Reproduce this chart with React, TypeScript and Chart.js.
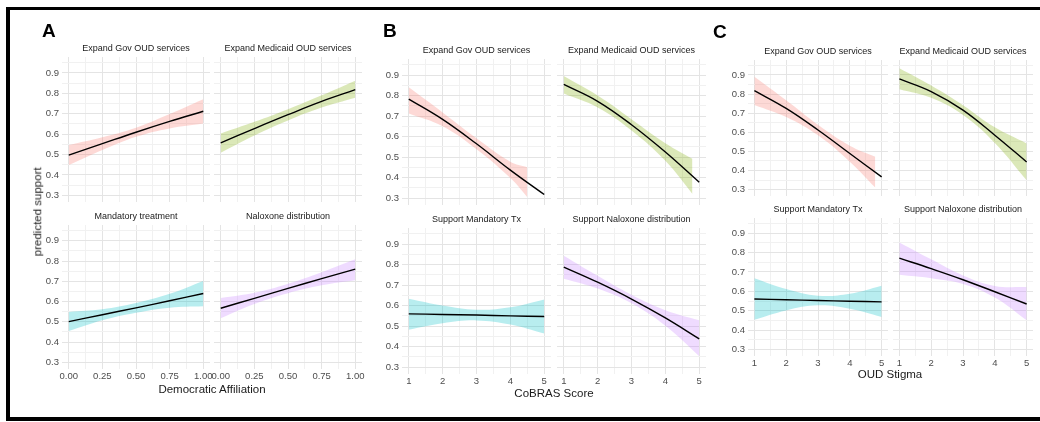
import React, { useEffect, useRef } from 'react';
import { Chart, registerables } from 'chart.js';

Chart.register(...registerables);
Chart.defaults.font.family = '"Liberation Sans", Arial, Helvetica, sans-serif';

// ---------------- data ----------------
const xAffil = [0, 0.25, 0.5, 0.75, 1];
const xScore = [1, 2, 3, 4, 5];

const xTicksAffil = [0, 0.25, 0.5, 0.75, 1];
const xTickLabelsAffil = ['0.00', '0.25', '0.50', '0.75', '1.00'];
const xMinorAffil = [0.125, 0.375, 0.625, 0.875];
const xTicksScore = [1, 2, 3, 4, 5];
const xTickLabelsScore = ['1', '2', '3', '4', '5'];
const xMinorScore = [1.5, 2.5, 3.5, 4.5];
const yTicks = [0.3, 0.4, 0.5, 0.6, 0.7, 0.8, 0.9];
const yTickLabels = ['0.3', '0.4', '0.5', '0.6', '0.7', '0.8', '0.9'];
const yMinor = [0.35, 0.45, 0.55, 0.65, 0.75, 0.85, 0.95];

const titlesA = ['Expand Gov OUD services', 'Expand Medicaid OUD services', 'Mandatory treatment', 'Naloxone distribution'];
const titlesBC = ['Expand Gov OUD services', 'Expand Medicaid OUD services', 'Support Mandatory Tx', 'Support Naloxone distribution'];
const panelLetters = ['A', 'B', 'C'];
const xTitles = ['Democratic Affiliation', 'CoBRAS Score', 'OUD Stigma'];
const yTitle = 'predicted support';

// Panel A (Democratic Affiliation)
const aGovFit = [0.497, 0.553, 0.609, 0.662, 0.712];
const aGovHi = [0.546, 0.584, 0.631, 0.698, 0.771];
const aGovLo = [0.448, 0.522, 0.587, 0.628, 0.652];
const aMedFit = [0.557, 0.627, 0.695, 0.760, 0.818];
const aMedHi = [0.603, 0.660, 0.722, 0.790, 0.862];
const aMedLo = [0.508, 0.593, 0.667, 0.730, 0.778];
const aManFit = [0.501, 0.535, 0.569, 0.604, 0.640];
const aManHi = [0.549, 0.562, 0.593, 0.638, 0.702];
const aManLo = [0.455, 0.508, 0.545, 0.570, 0.577];
const aNalFit = [0.567, 0.616, 0.665, 0.713, 0.760];
const aNalHi = [0.617, 0.643, 0.688, 0.745, 0.809];
const aNalLo = [0.518, 0.588, 0.641, 0.680, 0.705];

// Panel B (CoBRAS Score)
const bGovFit = [0.783, 0.684, 0.565, 0.437, 0.318];
const bGovBandX = [1, 2, 3, 4, 4.5];
const bGovHi = [0.840, 0.718, 0.592, 0.478, 0.451];
const bGovLo = [0.712, 0.650, 0.538, 0.398, 0.305];
const bMedFit = [0.854, 0.772, 0.658, 0.525, 0.378];
const bMedBandX = [1, 2, 3, 4, 4.8];
const bMedHi = [0.895, 0.800, 0.685, 0.568, 0.492];
const bMedLo = [0.810, 0.742, 0.630, 0.482, 0.321];
const bManFit = [0.560, 0.557, 0.554, 0.550, 0.547];
const bManHi = [0.633, 0.600, 0.580, 0.592, 0.630];
const bManLo = [0.483, 0.514, 0.528, 0.508, 0.464];
const bNalFit = [0.788, 0.714, 0.632, 0.540, 0.438];
const bNalHi = [0.843, 0.745, 0.653, 0.578, 0.529];
const bNalLo = [0.731, 0.683, 0.611, 0.502, 0.354];

// Panel C (OUD Stigma)
const cGovFit = [0.818, 0.725, 0.612, 0.489, 0.367];
const cGovBandX = [1, 2, 3, 4, 4.8];
const cGovHi = [0.891, 0.768, 0.640, 0.530, 0.472];
const cGovLo = [0.743, 0.680, 0.584, 0.446, 0.311];
const cMedFit = [0.879, 0.813, 0.716, 0.585, 0.445];
const cMedHi = [0.935, 0.845, 0.742, 0.626, 0.542];
const cMedLo = [0.825, 0.780, 0.690, 0.544, 0.349];
const cManFit = [0.561, 0.557, 0.553, 0.549, 0.546];
const cManHi = [0.668, 0.612, 0.578, 0.588, 0.629];
const cManLo = [0.454, 0.502, 0.528, 0.510, 0.468];
const cNalFit = [0.771, 0.717, 0.660, 0.598, 0.535];
const cNalHi = [0.852, 0.765, 0.682, 0.628, 0.622];
const cNalLo = [0.686, 0.668, 0.638, 0.568, 0.451];

// ---------------- styling / layout ----------------
const RED = '248,118,109';
const GREEN = '124,174,0';
const TEAL = '0,191,196';
const PURPLE = '199,124,255';
const FONT = '"Liberation Sans", Arial, Helvetica, sans-serif';
const Y_MIN = 0.267;
const Y_MAX = 0.978;

const panels = [
  { cols: [62, 214], width: 148, rows: [{ top: 57, h: 145 }, { top: 225, h: 144 }], xMin: -0.05, xMax: 1.05,
    ticks: xTicksAffil, tickLabels: xTickLabelsAffil, minor: xMinorAffil, titles: titlesA,
    letter: { x: 42, cy: 30 }, xTitle: { cx: 212, cy: 390 } },
  { cols: [402, 557], width: 149, rows: [{ top: 59, h: 146 }, { top: 228, h: 146 }], xMin: 0.8, xMax: 5.2,
    ticks: xTicksScore, tickLabels: xTickLabelsScore, minor: xMinorScore, titles: titlesBC,
    letter: { x: 383, cy: 30 }, xTitle: { cx: 554, cy: 394 } },
  { cols: [748, 893], width: 140, rows: [{ top: 60, h: 136 }, { top: 218, h: 138 }], xMin: 0.8, xMax: 5.2,
    ticks: xTicksScore, tickLabels: xTickLabelsScore, minor: xMinorScore, titles: titlesBC,
    letter: { x: 713, cy: 31 }, xTitle: { cx: 890, cy: 375 } },
];

type Series = { lineX: number[]; fit: number[]; bandX: number[]; hi: number[]; lo: number[]; color: string };

const seriesByPanel: Series[][] = [
  [
    { lineX: xAffil, fit: aGovFit, bandX: xAffil, hi: aGovHi, lo: aGovLo, color: RED },
    { lineX: xAffil, fit: aMedFit, bandX: xAffil, hi: aMedHi, lo: aMedLo, color: GREEN },
    { lineX: xAffil, fit: aManFit, bandX: xAffil, hi: aManHi, lo: aManLo, color: TEAL },
    { lineX: xAffil, fit: aNalFit, bandX: xAffil, hi: aNalHi, lo: aNalLo, color: PURPLE },
  ],
  [
    { lineX: xScore, fit: bGovFit, bandX: bGovBandX, hi: bGovHi, lo: bGovLo, color: RED },
    { lineX: xScore, fit: bMedFit, bandX: bMedBandX, hi: bMedHi, lo: bMedLo, color: GREEN },
    { lineX: xScore, fit: bManFit, bandX: xScore, hi: bManHi, lo: bManLo, color: TEAL },
    { lineX: xScore, fit: bNalFit, bandX: xScore, hi: bNalHi, lo: bNalLo, color: PURPLE },
  ],
  [
    { lineX: xScore, fit: cGovFit, bandX: cGovBandX, hi: cGovHi, lo: cGovLo, color: RED },
    { lineX: xScore, fit: cMedFit, bandX: xScore, hi: cMedHi, lo: cMedLo, color: GREEN },
    { lineX: xScore, fit: cManFit, bandX: xScore, hi: cManHi, lo: cManLo, color: TEAL },
    { lineX: xScore, fit: cNalFit, bandX: xScore, hi: cNalHi, lo: cNalLo, color: PURPLE },
  ],
];

const PAD_L = 34, PAD_R = 12, PAD_T = 12, PAD_B = 18;
const Y_AXIS_W = 30, X_AXIS_H = 14;
const TENSION = 0.4;

const near = (arr: number[], v: number) => arr.findIndex((a) => Math.abs(a - v) < 1e-9);

type FacetProps = {
  left: number; top: number; width: number; height: number; showX: boolean; showY: boolean;
  xMin: number; xMax: number; ticks: number[]; tickLabels: string[]; minor: number[]; s: Series;
};

function Facet(p: FacetProps) {
  const ref = useRef<HTMLCanvasElement>(null);
  const cw = PAD_L + p.width + PAD_R;
  const ch = PAD_T + p.height + PAD_B;
  useEffect(() => {
    const xAll = [...p.ticks, ...p.minor].sort((a, b) => a - b);
    const yAll = [...yTicks, ...yMinor].sort((a, b) => a - b);
    const gridColor = (major: number[]) => (ctx: any) =>
      ctx.tick && near(major, ctx.tick.value) >= 0 ? '#e4e4e4' : '#f1f1f1';
    const chart = new Chart(ref.current as HTMLCanvasElement, {
      type: 'line',
      data: {
        datasets: [
          {
            data: p.s.lineX.map((x, i) => ({ x, y: p.s.fit[i] })),
            borderColor: '#000', borderWidth: 1.4, pointRadius: 0, fill: false, tension: TENSION,
          },
          {
            data: p.s.bandX.map((x, i) => ({ x, y: p.s.hi[i] })),
            borderColor: 'rgba(0,0,0,0)', borderWidth: 0, pointRadius: 0,
            backgroundColor: `rgba(${p.s.color},0.28)`, fill: '+1', tension: TENSION,
          },
          {
            data: p.s.bandX.map((x, i) => ({ x, y: p.s.lo[i] })),
            borderColor: 'rgba(0,0,0,0)', borderWidth: 0, pointRadius: 0, fill: false, tension: TENSION,
          },
        ],
      } as any,
      options: {
        responsive: false,
        animation: false,
        events: [],
        layout: {
          padding: {
            left: p.showY ? PAD_L - Y_AXIS_W : PAD_L,
            right: PAD_R,
            top: PAD_T,
            bottom: p.showX ? PAD_B - X_AXIS_H : PAD_B,
          },
        },
        plugins: { legend: { display: false }, tooltip: { enabled: false }, title: { display: false } },
        scales: {
          x: {
            type: 'linear', min: p.xMin, max: p.xMax,
            afterBuildTicks: (s: any) => { s.ticks = xAll.map((v) => ({ value: v })); },
            afterFit: (s: any) => { s.height = p.showX ? X_AXIS_H : 0; },
            ticks: {
              display: p.showX, autoSkip: false, maxRotation: 0, minRotation: 0, padding: 2,
              color: '#4d4d4d', font: { size: 9.5, family: FONT },
              callback: (v: any) => { const i = near(p.ticks, Number(v)); return i >= 0 ? p.tickLabels[i] : ''; },
            },
            grid: { drawTicks: false, color: gridColor(p.ticks), lineWidth: 1 },
            border: { display: false },
          },
          y: {
            type: 'linear', min: Y_MIN, max: Y_MAX,
            afterBuildTicks: (s: any) => { s.ticks = yAll.map((v) => ({ value: v })); },
            afterFit: (s: any) => { s.width = p.showY ? Y_AXIS_W : 0; },
            ticks: {
              display: p.showY, autoSkip: false, padding: 3,
              color: '#4d4d4d', font: { size: 9.5, family: FONT },
              callback: (v: any) => { const i = near(yTicks, Number(v)); return i >= 0 ? yTickLabels[i] : ''; },
            },
            grid: { drawTicks: false, color: gridColor(yTicks), lineWidth: 1 },
            border: { display: false },
          },
        },
      } as any,
    });
    return () => chart.destroy();
  }, []);
  return (
    <canvas
      ref={ref}
      width={cw}
      height={ch}
      style={{ position: 'absolute', left: p.left - PAD_L, top: p.top - PAD_T, width: cw, height: ch }}
    />
  );
}

function Text({ cx, cy, size, children, weight, color, left, rotate }: any) {
  const w = 320;
  const style: React.CSSProperties = {
    position: 'absolute',
    top: cy - size / 2,
    height: size,
    lineHeight: `${size}px`,
    fontSize: size,
    fontFamily: FONT,
    fontWeight: weight || 'normal',
    color: color || '#1a1a1a',
    whiteSpace: 'nowrap',
  };
  if (left !== undefined) {
    style.left = left;
  } else {
    style.left = cx - w / 2;
    style.width = w;
    style.textAlign = 'center';
  }
  if (rotate) style.transform = 'rotate(-90deg)';
  return <div style={style}>{children}</div>;
}

export default function App() {
  const items: any[] = [];
  panels.forEach((pan, pi) => {
    pan.rows.forEach((row, ri) => {
      pan.cols.forEach((colLeft, ci) => {
        const idx = ri * 2 + ci;
        items.push(
          <Facet
            key={`f${pi}-${idx}`}
            left={colLeft} top={row.top} width={pan.width} height={row.h}
            showX={ri === 1} showY={ci === 0}
            xMin={pan.xMin} xMax={pan.xMax} ticks={pan.ticks} tickLabels={pan.tickLabels} minor={pan.minor}
            s={seriesByPanel[pi][idx]}
          />
        );
        items.push(
          <Text key={`t${pi}-${idx}`} cx={colLeft + pan.width / 2} cy={row.top - 9} size={9}>
            {pan.titles[idx]}
          </Text>
        );
      });
    });
    items.push(
      <Text key={`l${pi}`} left={pan.letter.x} cy={pan.letter.cy} size={19} weight="bold" color="#000">
        {panelLetters[pi]}
      </Text>
    );
    items.push(
      <Text key={`x${pi}`} cx={pan.xTitle.cx} cy={pan.xTitle.cy} size={11.5} color="#1a1a1a">
        {xTitles[pi]}
      </Text>
    );
  });
  return (
    <div style={{ position: 'fixed', left: 0, top: 0, width: 1040, height: 422, background: '#fff', overflow: 'hidden' }}>
      <div
        style={{
          position: 'absolute', left: 6, top: 7, width: 1060, height: 414, boxSizing: 'border-box',
          borderLeft: '4px solid #000', borderTop: '3px solid #000', borderBottom: '4px solid #000',
        }}
      />
      {items}
      <Text cx={37.5} cy={212} size={11.5} color="#1a1a1a" rotate>
        {yTitle}
      </Text>
    </div>
  );
}
